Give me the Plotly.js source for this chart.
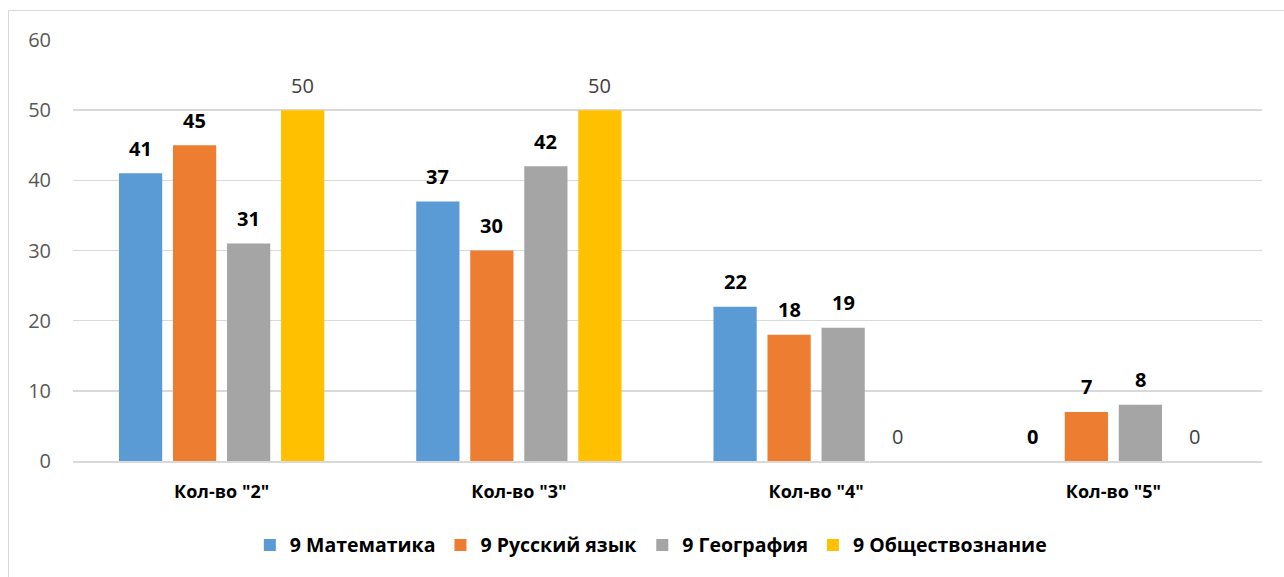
<!DOCTYPE html>
<html><head><meta charset="utf-8">
<script src="https://cdn.plot.ly/plotly-3.0.1.min.js"></script>
<style>
html,body{margin:0;padding:0;background:#fff;overflow:hidden;}
#wrap{position:relative;width:1284px;height:577px;overflow:hidden;}
#chart{position:absolute;left:0;top:0;width:1284px;height:577px;}
#frame{position:absolute;left:8px;top:10px;width:1290px;height:570px;border:1.5px solid #d9d9d9;box-sizing:border-box;pointer-events:none;}
</style></head>
<body>
<div id="wrap"><div id="chart"></div><div id="frame"></div></div>
<script>
const categories = ['Кол-во "2"', 'Кол-во "3"', 'Кол-во "4"', 'Кол-во "5"'];
const seriesNames = ['9 Математика', '9 Русский язык', '9 География', '9 Обществознание'];
const math = [41, 37, 22, 0];
const russian = [45, 30, 18, 7];
const geography = [31, 42, 19, 8];
const social = [50, 50, 0, 0];
const colors = ['#5B9BD5', '#ED7D31', '#A5A5A5', '#FFC000'];
const allSeries = [math, russian, geography, social];

const FONT = 'Open Sans, Noto Sans, sans-serif';

const traces = allSeries.map((vals, i) => ({
  type: 'bar',
  name: seriesNames[i],
  x: categories,
  y: vals,
  marker: {color: colors[i]},
  hoverinfo: 'x+y+name'
}));

// data labels
const slot = 54; // px spacing between bars within group
const annotations = [];
allSeries.forEach((vals, i) => {
  vals.forEach((v, j) => {
    const bold = i < 3;
    annotations.push({
      x: categories[j], y: v, xref: 'x', yref: 'y',
      text: bold ? '<b>' + v + '</b>' : String(v),
      showarrow: false,
      xshift: (i - 1.5) * slot,
      yshift: 25,
      font: {family: FONT, size: 20, color: bold ? '#000000' : '#404040'}
    });
  });
});

const layout = {
  width: 1284, height: 577,
  margin: {l: 73, r: 22, t: 40, b: 114},
  paper_bgcolor: '#ffffff', plot_bgcolor: '#ffffff',
  barmode: 'group',
  bargap: 0.273,
  bargroupgap: 0.2,
  font: {family: FONT, size: 18, color: '#595959'},
  xaxis: {
    type: 'category',
    showgrid: false,
    showline: true, linecolor: '#d9d9d9', linewidth: 2,
    ticks: '',
    ticklabelstandoff: 13,
    tickfont: {family: FONT, size: 18, color: '#000000', weight: 'bold'}
  },
  yaxis: {
    range: [0, 60], dtick: 10, tick0: 0,
    showgrid: true, gridcolor: '#d9d9d9', gridwidth: 1.5,
    zeroline: false, showline: false, ticks: '',
    ticklabelstandoff: 21,
    tickfont: {family: FONT, size: 20, color: '#595959'}
  },
  showlegend: true,
  legend: {
    orientation: 'h', x: 0.486, xanchor: 'center', y: -0.2, yanchor: 'middle',
    font: {family: FONT, size: 19.5, color: '#000000', weight: 'bold'},
    itemclick: false, itemdoubleclick: false
  },
  annotations: annotations
};

Plotly.newPlot('chart', traces, layout, {displayModeBar: false, staticPlot: true});
</script>
</body></html>
